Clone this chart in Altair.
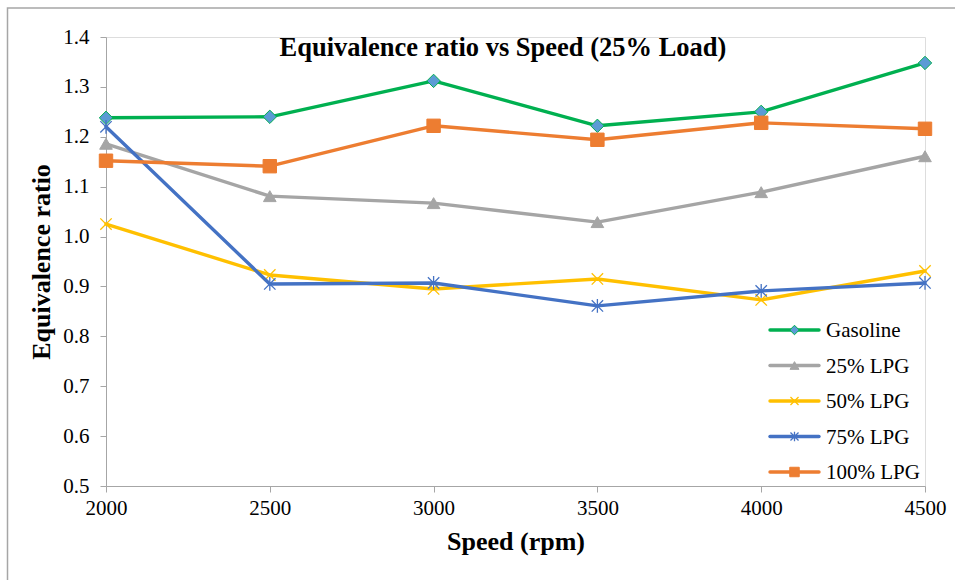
import altair as alt
import pandas as pd

# Engine speed (rpm) and equivalence ratio for each fuel blend at 25% load
speed = [2000, 2500, 3000, 3500, 4000, 4500]
gasoline = [1.238, 1.240, 1.312, 1.222, 1.250, 1.348]
lpg25 = [1.186, 1.081, 1.067, 1.029, 1.089, 1.161]
lpg50 = [1.025, 0.923, 0.895, 0.915, 0.873, 0.931]
lpg75 = [1.220, 0.905, 0.907, 0.861, 0.891, 0.907]
lpg100 = [1.152, 1.141, 1.222, 1.194, 1.228, 1.216]

series_names = ["Gasoline", "25% LPG", "50% LPG", "75% LPG", "100% LPG"]
series_values = [gasoline, lpg25, lpg50, lpg75, lpg100]

FONT = "Liberation Serif"
W, H = 819, 449

X_PATH = "M-1,-1L1,1M-1,1L1,-1"
STAR_PATH = "M-1,-1L1,1M-1,1L1,-1M0,-1.2L0,1.2"

# line colour, marker shape, marker fill, marker stroke, marker size
styles = {
    "Gasoline": dict(line="#00B050", shape="diamond", fill="#5B9BD5", stroke="#00B050", size=180, sw=1),
    "25% LPG": dict(line="#A5A5A5", shape="triangle-up", fill="#A5A5A5", stroke="#A5A5A5", size=160, sw=1),
    "50% LPG": dict(line="#FFC000", shape=X_PATH, fill="transparent", stroke="#FFC000", size=130, sw=1.3),
    "75% LPG": dict(line="#4472C4", shape=STAR_PATH, fill="transparent", stroke="#4472C4", size=130, sw=1.3),
    "100% LPG": dict(line="#ED7D31", shape="square", fill="#ED7D31", stroke="#ED7D31", size=180, sw=1),
}

rows = []
for name, vals in zip(series_names, series_values):
    for s, v in zip(speed, vals):
        rows.append({"Speed": s, "Ratio": v, "Series": name})
df = pd.DataFrame(rows)

x_enc = alt.X(
    "Speed:Q",
    scale=alt.Scale(domain=[2000, 4500], nice=False, zero=False),
    axis=alt.Axis(
        title="Speed (rpm)", values=speed, format="d", grid=False,
        labelFont=FONT, labelFontSize=21, labelColor="#000", labelPadding=5,
        labelFlush=False, labelOverlap=False,
        titleFont=FONT, titleFontSize=26, titleFontWeight="bold", titleColor="#000",
        titlePadding=10, domainColor="#A6A6A6", tickColor="#A6A6A6", tickSize=6,
    ),
)
y_enc = alt.Y(
    "Ratio:Q",
    scale=alt.Scale(domain=[0.5, 1.4], nice=False, zero=False),
    axis=alt.Axis(
        title="Equivalence ratio", values=[0.5 + 0.1 * i for i in range(10)], format=".1f",
        grid=False, labelFont=FONT, labelFontSize=21, labelColor="#000", labelPadding=11,
        labelFlush=False, labelOverlap=False,
        titleFont=FONT, titleFontSize=26, titleFontWeight="bold", titleColor="#000",
        titlePadding=8, domainColor="#A6A6A6", tickColor="#A6A6A6", tickSize=6,
    ),
)

layers = []
for name in series_names:
    st = styles[name]
    sub = df[df["Series"] == name]
    base = alt.Chart(sub).encode(x=x_enc, y=y_enc)
    layers.append(base.mark_line(color=st["line"], strokeWidth=3.4, strokeCap="round", strokeJoin="round"))
    layers.append(
        base.mark_point(
            shape=st["shape"], size=st["size"], filled=False, fill=st["fill"],
            stroke=st["stroke"], strokeWidth=st["sw"], opacity=1,
        )
    )

# Legend drawn inside the plot area, lower right
leg_y0, leg_dy = 293, 35.5
for i, name in enumerate(series_names):
    st = styles[name]
    yy = leg_y0 + i * leg_dy
    pt = pd.DataFrame({"Series": [name]})
    layers.append(
        alt.Chart(pt).mark_rule(color=st["line"], strokeWidth=3.4, strokeCap="round").encode(
            x=alt.value(664), x2=alt.value(713), y=alt.value(yy)
        )
    )
    layers.append(
        alt.Chart(pt).mark_point(
            shape=st["shape"], size=st["size"] * 0.5, filled=False, fill=st["fill"],
            stroke=st["stroke"], strokeWidth=st["sw"], opacity=1,
        ).encode(x=alt.value(688.5), y=alt.value(yy))
    )
    layers.append(
        alt.Chart(pt).mark_text(
            align="left", baseline="middle", font=FONT, fontSize=21, color="#000"
        ).encode(x=alt.value(720), y=alt.value(yy + 1), text="Series:N")
    )

# Chart title sitting inside the top of the plot area
title_df = pd.DataFrame({"t": ["Equivalence ratio vs Speed (25% Load)"]})
layers.append(
    alt.Chart(title_df).mark_text(
        align="center", baseline="middle", font=FONT, fontSize=26.5, fontWeight="bold", color="#000"
    ).encode(x=alt.value(397), y=alt.value(11), text="t:N")
)

# Thin outer frame around the figure
layers.append(
    alt.Chart(title_df).mark_rect(fill="transparent", stroke="#A6A6A6", strokeWidth=1.5, clip=False).encode(
        x=alt.value(-98.5), x2=alt.value(900), y=alt.value(-29), y2=alt.value(600)
    )
)

chart = (
    alt.layer(*layers)
    .properties(width=W, height=H, padding={"left": 106, "top": 37, "right": 30, "bottom": 94},
                autosize=alt.AutoSizeParams(type="none"))
    .configure_view(stroke=None)
    .configure(background="white")
)

chart.save("out.html", embed_options={"renderer": "svg", "actions": False})
